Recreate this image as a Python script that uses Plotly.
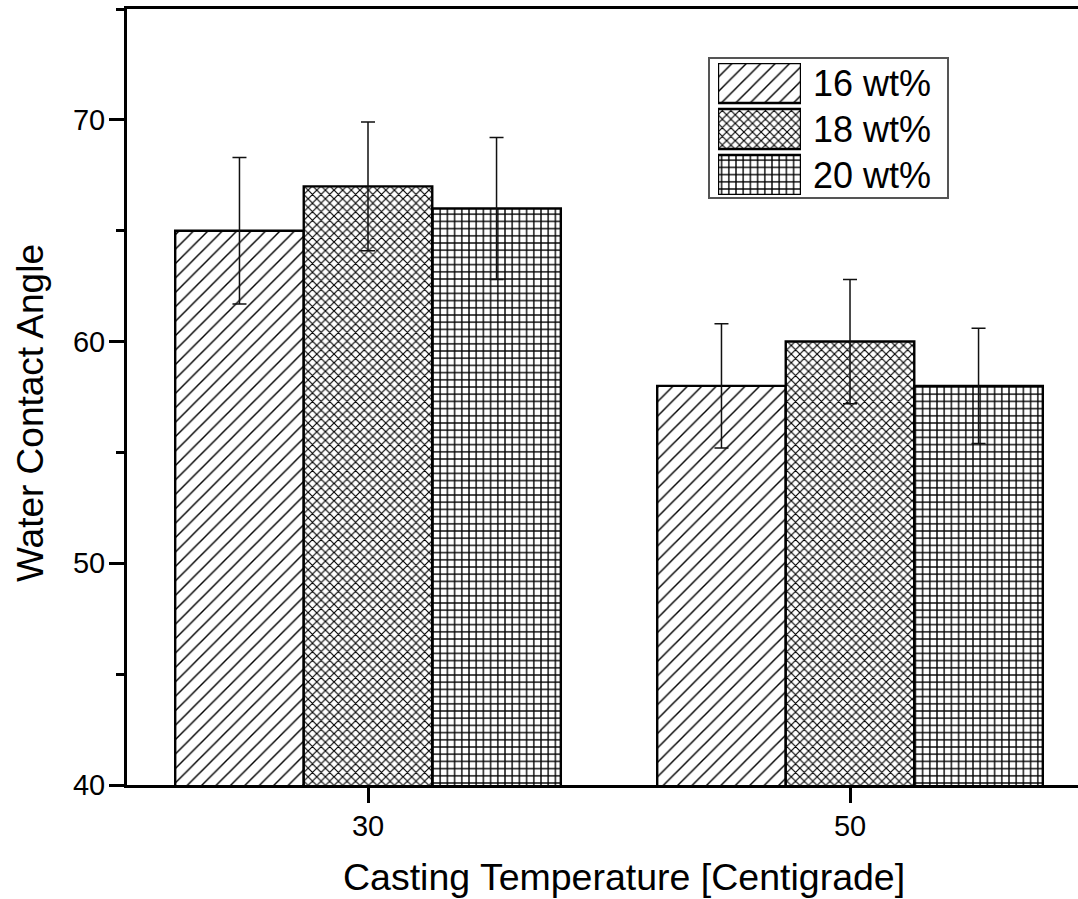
import plotly.graph_objects as go

# ---- data ----
categories = ["30", "50"]
series_names = ["16 wt%", "18 wt%", "20 wt%"]
values_16 = [65.0, 58.0]
values_18 = [67.0, 60.0]
values_20 = [66.0, 58.0]
err_16 = [3.3, 2.8]
err_18 = [2.9, 2.8]
err_20 = [3.2, 2.6]
y_tick_vals = [40, 50, 60, 70]
x_title = "Casting Temperature [Centigrade]"
y_title = "Water Contact Angle"

FONT = "Liberation Sans, Arial, sans-serif"
W, H = 1078, 899
ML, MR, MT, MB = 127, 0, 9, 114
PW, PH = W - ML - MR, H - MT - MB

def px_x(x):
    return (x - ML) / PW

def px_y(y):
    return (H - MB - y) / PH

patterns = [
    dict(shape="/", size=10.2, solidity=0.14, fgcolor="black", bgcolor="white", fgopacity=1, fillmode="replace"),
    dict(shape="x", size=6.1, solidity=0.34, fgcolor="black", bgcolor="white", fgopacity=1, fillmode="replace"),
    dict(shape="+", size=7.2, solidity=0.34, fgcolor="black", bgcolor="white", fgopacity=1, fillmode="replace"),
]

fig = go.Figure()
for name, vals, errs, pat in zip(series_names, [values_16, values_18, values_20],
                                  [err_16, err_18, err_20], patterns):
    fig.add_trace(go.Bar(
        x=categories, y=vals, name=name, showlegend=False,
        marker=dict(color="white", line=dict(color="black", width=2.4), pattern=pat),
        error_y=dict(type="data", array=errs, visible=True, color="#111111",
                     thickness=1.5, width=7),
        xaxis="x", yaxis="y",
    ))

# custom legend swatches drawn as bars on a hidden overlay axis
for i, (name, pat) in enumerate(zip(series_names, patterns)):
    fig.add_trace(go.Bar(
        x=[1], y=[i], base=0, orientation="h", width=0.87, showlegend=False,
        marker=dict(color="white", line=dict(color="black", width=2.4), pattern=pat),
        xaxis="x2", yaxis="y2", hoverinfo="skip",
    ))
    fig.add_annotation(
        text=name, xref="paper", yref="paper",
        x=px_x(811), y=px_y(83 + 46 * i), xanchor="left", yanchor="middle",
        showarrow=False, font=dict(family=FONT, size=36, color="black"),
    )

fig.add_shape(type="rect", xref="paper", yref="paper",
              x0=px_x(709), x1=px_x(948), y0=px_y(198), y1=px_y(58),
              line=dict(color="#555555", width=2), fillcolor="rgba(0,0,0,0)", layer="below")

# axis titles placed as annotations
fig.add_annotation(text=x_title, xref="paper", yref="paper",
                   x=px_x(624), y=px_y(877), xanchor="center", yanchor="middle",
                   showarrow=False, font=dict(family=FONT, size=37.5, color="black"))
fig.add_annotation(text=y_title, xref="paper", yref="paper", textangle=-90,
                   x=px_x(31), y=px_y(413), xanchor="center", yanchor="middle",
                   showarrow=False, font=dict(family=FONT, size=37, color="black"))

fig.update_layout(
    width=W, height=H,
    margin=dict(l=ML, r=MR, t=MT, b=MB),
    paper_bgcolor="white", plot_bgcolor="white",
    barmode="group", bargap=0.2, bargroupgap=0,
    showlegend=False,
    font=dict(family=FONT, color="black"),
    xaxis=dict(
        type="category", range=[-0.5, 1.473],
        showline=True, linecolor="black", linewidth=3, mirror=True,
        ticks="outside", ticklen=15, tickwidth=3, tickcolor="black",
        showgrid=False, zeroline=False,
        tickfont=dict(family=FONT, size=29, color="black"),
        ticklabelstandoff=-2,
    ),
    yaxis=dict(
        range=[40, 75], tickvals=y_tick_vals,
        showline=True, linecolor="black", linewidth=3,
        ticks="outside", ticklen=15, tickwidth=3, tickcolor="black",
        minor=dict(ticks="outside", ticklen=8, tickwidth=3, tickcolor="black", dtick=5, tick0=40),
        showgrid=False, zeroline=False,
        tickfont=dict(family=FONT, size=29, color="black"),
        ticklabelstandoff=-2,
    ),
    xaxis2=dict(domain=[px_x(718), px_x(801)], range=[0, 1], anchor="y2",
                visible=False, fixedrange=True),
    yaxis2=dict(domain=[px_y(195), px_y(63)], range=[2.435, -0.435], anchor="x2",
                visible=False, fixedrange=True),
)

fig.write_html("out.html")
